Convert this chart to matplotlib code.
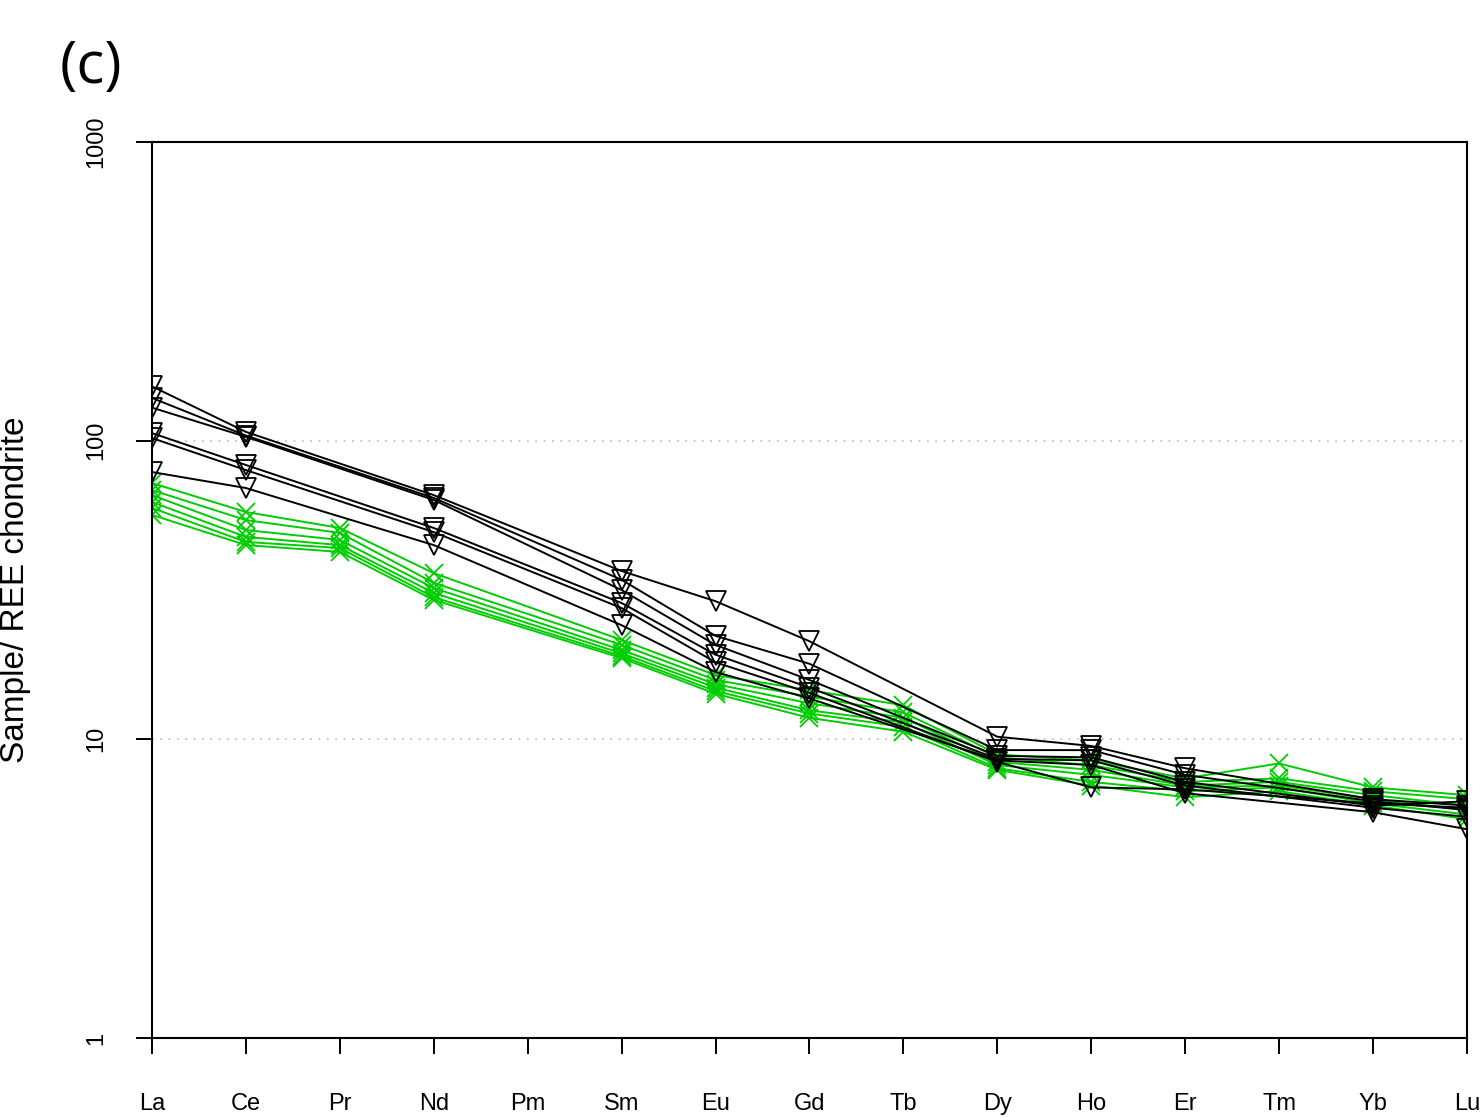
import numpy as np
import matplotlib.pyplot as plt

plt.rcParams['font.family'] = ['Liberation Sans', 'DejaVu Sans']

elements = ["La", "Ce", "Pr", "Nd", "Pm", "Sm", "Eu", "Gd", "Tb",
            "Dy", "Ho", "Er", "Tm", "Yb", "Lu"]
nan = np.nan

# chondrite-normalised values, black group (no Pr, Pm, Tb, Tm)
black_1 = [152, 107, nan, 65.7, nan, 36.6, 29.0, 21.3, nan, 10.2, 9.5, 8.0, nan, 6.3, 6.0]
black_2 = [139, 104, nan, 64.3, nan, 34.2, 22.2, 17.9, nan, 9.2, 9.2, 7.6, nan, 6.2, 5.8]
black_3 = [129, 103, nan, 63.3, nan, 31.6, 20.7, 15.8, nan, 8.8, 8.7, 7.2, nan, 6.0, 6.2]
black_4 = [106, 82.9, nan, 51.0, nan, 28.6, 19.2, 14.9, nan, 8.6, 8.5, 7.0, nan, 5.9, 5.5]
black_5 = [102, 79.7, nan, 49.4, nan, 27.5, 18.1, 14.3, nan, 8.4, 6.9, 6.8, nan, 6.1, 5.9]
black_6 = [78.5, 69.4, nan, 44.7, nan, 24.1, 16.8, 13.7, nan, 8.5, 8.2, 6.6, nan, 5.7, 5.0]

# green group (no Pm)
green_1 = [72.1, 57.7, 51.0, 36.0, nan, 21.5, 16.4, 14.6, 13.0, 8.9, 8.5, 7.4, 8.3, 6.9, 6.5]
green_2 = [68.3, 54.2, 49.1, 33.4, nan, 20.7, 15.8, 13.9, 12.3, 8.7, 8.2, 7.2, 7.4, 6.7, 6.3]
green_3 = [65.7, 50.2, 46.5, 32.1, nan, 19.9, 15.3, 13.2, 11.8, 8.4, 7.9, 7.0, 7.2, 6.5, 6.0]
green_4 = [62.3, 47.6, 44.7, 30.9, nan, 19.4, 14.9, 12.5, 11.4, 8.2, 7.6, 6.9, 7.0, 6.3, 5.8]
green_5 = [59.5, 45.8, 43.7, 29.9, nan, 19.0, 14.5, 12.2, 11.0, 8.0, 7.2, 6.7, 6.9, 6.1, 5.6]
green_6 = [56.4, 44.7, 42.4, 29.3, nan, 18.7, 14.2, 11.8, 10.6, 7.9, 7.0, 6.4, 6.7, 6.0, 5.4]

black_samples = [black_1, black_2, black_3, black_4, black_5, black_6]
green_samples = [green_1, green_2, green_3, green_4, green_5, green_6]

fig = plt.figure(figsize=(14.81, 11.18), dpi=100)
ax = fig.add_axes([0.1026, 0.0716, 0.8879, 0.8014])

x = np.arange(len(elements))


def draw(sample, **kw):
    # missing elements are skipped, the line joins the neighbours
    y = np.array(sample, dtype=float)
    ok = np.isfinite(y)
    ax.plot(x[ok], y[ok], **kw)


for s in green_samples:
    draw(s, color="#00CD00", lw=1.4, marker="x", ms=13, mew=1.3)
for s in black_samples:
    draw(s, color="black", lw=1.4, marker="v", ms=15, mfc="none", mew=1.3)

ax.set_yscale("log")
ax.set_ylim(1, 1000)
ax.set_xlim(0, len(elements) - 1)

for g in [10, 100]:
    ax.axhline(g, color="#bbbbbb", lw=1.2, ls=(0, (1, 4)), zorder=0)

ax.set_yticks([1, 10, 100, 1000])
ax.set_yticklabels(["1", "10", "100", "1000"], rotation=90, va="center")
ax.yaxis.set_minor_locator(plt.NullLocator())
ax.set_xticks(x)
ax.set_xticklabels(elements, va="center")
ax.tick_params(axis="x", length=11.5, width=1.4, pad=36, labelsize=17, color="black")
ax.tick_params(axis="y", length=11.5, width=1.4, pad=21, labelsize=17)
for sp in ax.spines.values():
    sp.set_linewidth(1.5)

ax.set_ylabel("Sample/ REE chondrite", fontsize=24, va="center")
ax.yaxis.set_label_coords(16 / 1481, 0.5 * (0.0716 + 0.8730), transform=fig.transFigure)
fig.text(0.04, 0.939, "(c)", fontsize=42, family=["Open Sans", "DejaVu Sans"],
         va="center")

fig.savefig("out.png", dpi=100)
